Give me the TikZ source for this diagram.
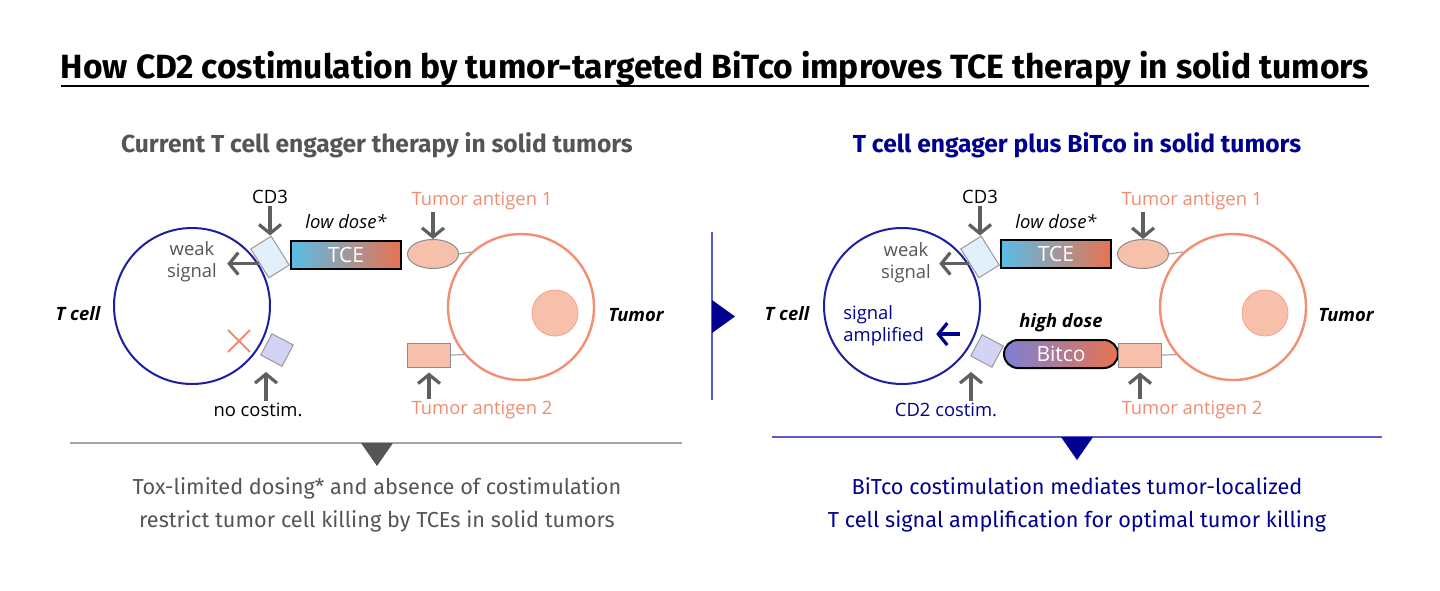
\documentclass[tikz,border=0pt]{standalone}
\usepackage{fontspec}
\setmainfont{Fira Sans}
\newfontfamily\lblfont{Open Sans}
\usetikzlibrary{arrows.meta,shapes.geometric,shapes.misc}

\definecolor{bitnavy}{RGB}{0,0,145}
\definecolor{cellblue}{RGB}{30,30,160}
\definecolor{txtgray}{RGB}{85,85,85}
\definecolor{arrgray}{RGB}{95,95,95}
\definecolor{tumsalmon}{RGB}{241,140,112}
\definecolor{tumline}{RGB}{244,142,115}
\definecolor{agfill}{RGB}{246,192,171}
\definecolor{cdthree}{RGB}{225,240,251}
\definecolor{cdtwo}{RGB}{211,211,245}
\definecolor{tceblue}{RGB}{88,189,232}
\definecolor{tcegray}{RGB}{150,158,175}
\definecolor{tceorange}{RGB}{232,115,80}
\definecolor{bitlav}{RGB}{125,128,215}
\definecolor{bitpink}{RGB}{195,135,160}
\definecolor{divblue}{RGB}{90,90,210}

\begin{document}
\begin{tikzpicture}[
    x = 0.5bp, y = -0.5bp,
    %
    title/.style = {font = \fontsize{16.8bp}{19bp}\selectfont\bfseries,
      inner sep = 0},
    subtitle/.style = {font = \fontsize{12.3bp}{14bp}\selectfont\bfseries},
    sumtext/.style = {font = \fontsize{10.85bp}{16.5bp}\selectfont,
      align = center},
    lbl/.style = {font = \lblfont\fontsize{9.2bp}{11bp}\selectfont,
      inner sep = 1bp},
    tag/.style = {font = \lblfont\fontsize{9.2bp}{11bp}\selectfont\bfseries\itshape},
    %
    tcell/.style = {draw = cellblue, line width = 1bp, circle,
      minimum size = 78bp, inner sep = 0},
    tumor/.style = {draw = tumline, line width = 1.2bp, circle,
      minimum size = 73bp, inner sep = 0},
    nucleus/.style = {fill = agfill, draw = tumline!60!agfill,
      line width = 0.4bp, circle, minimum size = 23bp, inner sep = 0},
    cdthreebox/.style = {fill = cdthree, draw = gray!80, line width = 0.5bp,
      minimum width = 12bp, minimum height = 17bp, inner sep = 0, rotate = 32},
    cdtwobox/.style = {fill = cdtwo, draw = gray!80, line width = 0.5bp,
      minimum size = 12bp, inner sep = 0, rotate = -28},
    antigen/.style = {fill = agfill, draw = gray!90, line width = 0.5bp,
      inner sep = 0},
    drug/.style = {draw = black, line width = 1bp, text = white,
      font = \lblfont\fontsize{10.5bp}{12bp}\selectfont,
      minimum width = 55bp, minimum height = 14bp, inner sep = 0},
    tether/.style = {draw = gray!70, line width = 0.6bp},
    garrow/.style = {draw = arrgray, line width = 1.6bp,
      -{Straight Barb[length = 4.5bp, width = 11bp]}},
    narrow/.style = {draw = bitnavy, line width = 1.6bp,
      -{Straight Barb[length = 4.5bp, width = 11bp]}},
    ]

    \useasboundingbox (0, 0) rectangle (1440, 591);

    % title
    \node at (715, 79) [title, anchor = base, name = title]
    {How CD2 costimulation by tumor-targeted BiTco improves TCE therapy in solid tumors};
    \draw [line width = 1.1bp] ([yshift = -3.5bp]title.base west)
    -- ([yshift = -3.5bp]title.base east);

    \node at (377, 145) [subtitle, txtgray, name = subL]
    {Current T cell engager therapy in solid tumors};
    \node at (1077, 145) [subtitle, bitnavy, name = subR]
    {T cell engager plus BiTco in solid tumors};

    % ---- left: current therapy
    \node at (192, 306) [tcell, name = tcellL] {};
    \node at (78, 314) [tag, name = tcelltagL] {T cell};
    \node at (270, 257) [cdthreebox, name = cd3L] {};
    \node at (270, 197) [lbl, name = cd3lblL] {CD3};
    \node at (346, 222) [lbl, font = \lblfont\fontsize{9.2bp}{11bp}\selectfont\itshape,
      name = lowdoseL] {low dose*};
    \node at (346, 255) [drug, left color = tceblue, middle color = tcegray,
      right color = tceorange, name = tceL] {TCE};
    \node at (192, 262) [lbl, txtgray, align = center, name = weakL]
    {weak\\signal};
    \node at (239, 341) [cross out, draw = tumsalmon, line width = 1bp,
      minimum size = 10bp, inner sep = 0, name = xmarkL] {};
    \node at (277, 350) [cdtwobox, name = cd2L] {};
    \node at (258, 410) [lbl, name = nocostimL] {no costim.};
    \coordinate (cd2footL) at (266, 372);

    \node at (521, 307) [tumor, name = tumorL] {};
    \node at (555, 313) [nucleus, name = nucL] {};
    \node at (433, 254) [antigen, ellipse, minimum width = 25.5bp,
      minimum height = 14.5bp, name = ag1L] {};
    \node at (429, 355) [antigen, minimum width = 21.5bp,
      minimum height = 12bp, name = ag2L] {};
    \node at (482, 201) [lbl, tumsalmon, name = ag1lblL] {Tumor antigen 1};
    \node at (482, 410) [lbl, tumsalmon, name = ag2lblL] {Tumor antigen 2};
    \node at (636, 315) [tag, name = tumortagL] {Tumor};

    \draw [tether] (ag1L.east) -- (tumorL.132);
    \draw [tether] (ag2L.east) -- (tumorL.220);

    \draw [garrow] (cd3lblL.south) -- (cd3lblL.south |- cd3L.north east);
    \draw [garrow, shorten >= 4bp] (cd3L.west) -- (cd3L.west -| weakL.east);
    \draw [garrow] (nocostimL.north -| cd2footL) -- (cd2footL);
    \draw [garrow] (ag1lblL.south -| ag1L.north) -- (ag1L.north);
    \draw [garrow, shorten >= 2.5bp] (ag2lblL.north -| ag2L.south) -- (ag2L.south);

    % ---- right: TCE plus BiTco
    \node at (902, 306) [tcell, name = tcellR] {};
    \node at (787, 314) [tag, name = tcelltagR] {T cell};
    \node at (980, 257) [cdthreebox, name = cd3R] {};
    \node at (980, 197) [lbl, name = cd3lblR] {CD3};
    \node at (1056, 222) [lbl, font = \lblfont\fontsize{9.2bp}{11bp}\selectfont\itshape,
      name = lowdoseR] {low dose*};
    \node at (1056, 254) [drug, left color = tceblue, middle color = tcegray,
      right color = tceorange, name = tceR] {TCE};
    \node at (906, 263) [lbl, txtgray, align = center, name = weakR]
    {weak\\signal};
    \node at (841, 326) [lbl, bitnavy, align = left, anchor = west, name = ampR]
    {signal\\amplified};
    \node at (987, 351) [cdtwobox, name = cd2R] {};
    \node at (946, 410) [lbl, bitnavy, name = cd2lblR] {CD2 costim.};
    \coordinate (cd2footR) at (971, 372);
    \node at (1061, 323) [tag, name = highdoseR] {high dose};
    \node at (1061, 354) [drug, rounded corners = 7bp, minimum width = 57bp,
      left color = bitlav, middle color = bitpink, right color = tceorange,
      name = bitcoR] {Bitco};

    \node at (1233, 307) [tumor, name = tumorR] {};
    \node at (1265, 313) [nucleus, name = nucR] {};
    \node at (1143, 254) [antigen, ellipse, minimum width = 25.5bp,
      minimum height = 14.5bp, name = ag1R] {};
    \node at (1140, 355) [antigen, minimum width = 21.5bp,
      minimum height = 12bp, name = ag2R] {};
    \node at (1192, 201) [lbl, tumsalmon, name = ag1lblR] {Tumor antigen 1};
    \node at (1192, 410) [lbl, tumsalmon, name = ag2lblR] {Tumor antigen 2};
    \node at (1346, 315) [tag, name = tumortagR] {Tumor};

    \draw [tether] (ag1R.east) -- (tumorR.132);
    \draw [tether] (ag2R.east) -- (tumorR.220);

    \draw [garrow] (cd3lblR.south) -- (cd3lblR.south |- cd3R.north east);
    \draw [garrow, shorten >= 3bp] (cd3R.west) -- (cd3R.west -| weakR.east);
    \draw [narrow, shorten <= 11bp, shorten >= 5bp]
    (cd2R.north west) -- (cd2R.north west -| ampR.east);
    \draw [garrow] (cd2lblR.north -| cd2footR) -- (cd2footR);
    \draw [garrow] (ag1lblR.south -| ag1R.north) -- (ag1R.north);
    \draw [garrow, shorten >= 2.5bp] (ag2lblR.north -| ag2R.south) -- (ag2R.south);

    % ---- dividers
    \draw [divblue, line width = 0.8bp] (712, 232) -- (712, 400);
    \fill [bitnavy] (712, 300) -- (735, 316.5) -- (712, 333) -- cycle;

    \draw [gray!70, line width = 0.8bp] (70, 443) -- (682, 443);
    \fill [txtgray] (361, 443) -- (393, 443) -- (377, 466) -- cycle;
    \draw [divblue, line width = 0.8bp] (772, 437) -- (1382, 437);
    \fill [bitnavy] (1061, 437) -- (1093, 437) -- (1077, 460) -- cycle;

    \node at (377, 505) [sumtext, txtgray, name = sumL]
    {Tox-limited dosing* and absence of costimulation\\
      restrict tumor cell killing by TCEs in solid tumors};
    \node at (1077, 505) [sumtext, bitnavy, name = sumR]
    {BiTco costimulation mediates tumor-localized\\
      T cell signal amplification for optimal tumor killing};

  \end{tikzpicture}
\end{document}
